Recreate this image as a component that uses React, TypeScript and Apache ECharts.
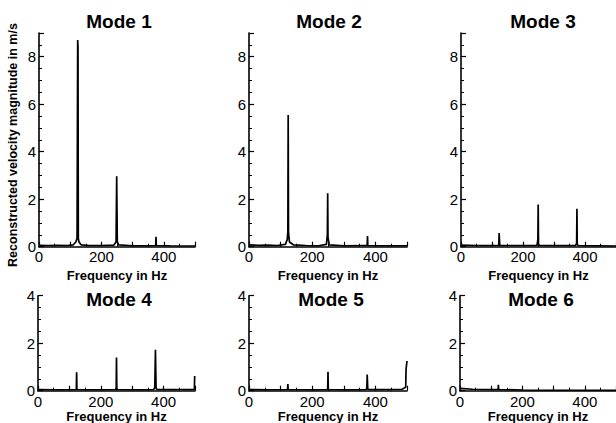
import React, { useEffect, useRef } from "react";
import * as echarts from "echarts";

const modeTitles = ["Mode 1", "Mode 2", "Mode 3", "Mode 4", "Mode 5", "Mode 6"];
const xAxisName = "Frequency in Hz";
const yAxisName = "Reconstructed velocity magnitude in m/s";
const xLabelValues = [0, 200, 400];
const yMaxTop = 9;
const yMaxBottom = 4;

// [frequency in Hz, magnitude in m/s]
const mode1: number[][] = [
  [0, 0.06], [30, 0.05], [60, 0.06], [90, 0.05], [110, 0.08], [118, 0.2], [122, 0.35],
  [124, 8.7], [125, 8.4], [126, 0.35], [128, 0.2], [135, 0.08], [160, 0.05], [200, 0.05],
  [240, 0.07], [247, 0.2], [249, 2.97], [251, 0.2], [255, 0.08], [300, 0.04], [350, 0.04],
  [374, 0.05], [375, 0.42], [376, 0.05], [420, 0.04], [500, 0.03],
];
const mode2: number[][] = [
  [0, 0.08], [30, 0.06], [60, 0.07], [90, 0.05], [115, 0.1], [121, 0.3], [123, 0.65],
  [124, 5.55], [125, 0.6], [128, 0.2], [140, 0.08], [180, 0.05], [220, 0.04], [245, 0.1],
  [248, 0.5], [249, 2.25], [250, 0.4], [254, 0.08], [300, 0.04], [360, 0.05], [374, 0.05],
  [375, 0.45], [376, 0.05], [420, 0.04], [500, 0.04],
];
const mode3: number[][] = [
  [0, 0.07], [50, 0.05], [100, 0.05], [122, 0.05], [123, 0.58], [125, 0.05], [200, 0.05],
  [245, 0.05], [248, 0.3], [249, 1.78], [250, 0.1], [253, 0.05], [300, 0.05], [370, 0.05],
  [373, 0.15], [374, 1.6], [375, 0.1], [378, 0.05], [440, 0.04], [500, 0.03],
];
const mode4: number[][] = [
  [0, 0.05], [60, 0.04], [122, 0.05], [123, 0.78], [124, 0.05], [200, 0.04], [247, 0.05],
  [249, 0.1], [250, 1.4], [251, 0.1], [253, 0.05], [320, 0.04], [369, 0.05], [372, 0.15],
  [374, 1.72], [376, 0.1], [379, 0.05], [440, 0.05], [498, 0.05], [499, 0.62], [500, 0.62],
];
const mode5: number[][] = [
  [0, 0.05], [60, 0.04], [122, 0.05], [123, 0.28], [124, 0.05], [200, 0.04], [249, 0.05],
  [250, 0.8], [251, 0.05], [320, 0.04], [370, 0.05], [373, 0.1], [374, 0.68], [376, 0.05],
  [440, 0.05], [485, 0.06], [492, 0.12], [496, 0.15], [497, 0.9], [499, 0.9], [500, 1.25],
];
const mode6: number[][] = [
  [0, 0.1], [40, 0.06], [100, 0.05], [122, 0.05], [123, 0.25], [124, 0.05], [200, 0.03],
  [300, 0.02], [400, 0.02], [500, 0.02],
];

const modeData = [mode1, mode2, mode3, mode4, mode5, mode6];

const FONT = "'Liberation Sans', Arial, Helvetica, sans-serif";

export default function App() {
  const ref = useRef<HTMLDivElement>(null);

  useEffect(() => {
    if (!ref.current) return;
    const chart = echarts.init(ref.current, undefined, { renderer: "svg" });

    const grids = [
      { left: 39, top: 33, width: 156, height: 213.7 },
      { left: 249, top: 33, width: 158, height: 213.7 },
      { left: 461, top: 33, width: 155, height: 213.7 },
      { left: 38, top: 295.7, width: 157, height: 95 },
      { left: 249, top: 295.7, width: 158, height: 95 },
      { left: 460, top: 295.7, width: 156, height: 95 },
    ];

    const axisLine = { show: true, onZero: false, lineStyle: { color: "#000", width: 1.6 } };
    const axisTick = { show: true, inside: true, length: 5, lineStyle: { color: "#000", width: 1.2 } };
    const minorTickStyle = { color: "#000", width: 1 };

    const xAxes = grids.map((_, i) => ({
      type: "value",
      gridIndex: i,
      min: 0,
      max: 500,
      interval: 100,
      axisLine,
      axisTick,
      minorTick: { show: true, splitNumber: 2, length: 3, lineStyle: minorTickStyle },
      splitLine: { show: false },
      axisLabel: {
        show: true,
        margin: i < 3 ? 2 : 3,
        color: "#000",
        fontSize: 15,
        fontFamily: FONT,
        formatter: (v: number) => (xLabelValues.includes(v) ? String(v) : ""),
      },
      name: xAxisName,
      nameLocation: "middle",
      nameGap: i < 3 ? 18 : 16,
      nameTextStyle: { color: "#000", fontSize: 13, fontWeight: "bold", fontFamily: FONT, lineHeight: 14 },
    }));

    const yAxes = grids.map((_, i) => ({
      type: "value",
      gridIndex: i,
      min: 0,
      max: i < 3 ? yMaxTop : yMaxBottom,
      interval: 2,
      axisLine,
      axisTick,
      minorTick: { show: true, splitNumber: 4, length: 3, lineStyle: minorTickStyle },
      splitLine: { show: false },
      axisLabel: {
        show: true,
        margin: 3,
        color: "#000",
        fontSize: 15,
        fontFamily: FONT,
        formatter: (v: number) => (v % 2 === 0 ? String(v) : ""),
      },
    }));

    const titleCenters = [
      [119, 21], [329, 21], [543, 21],
      [119, 299], [331, 299], [541, 299],
    ];

    const graphic: any[] = modeTitles.map((t, i) => ({
      type: "text",
      x: titleCenters[i][0],
      y: titleCenters[i][1],
      style: {
        text: t,
        fill: "#000",
        font: `bold 19px ${FONT}`,
        align: "center",
        verticalAlign: "middle",
      },
    }));
    graphic.push({
      type: "text",
      x: 13,
      y: 145,
      rotation: Math.PI / 2,
      style: {
        text: yAxisName,
        fill: "#000",
        font: `bold 12.5px ${FONT}`,
        align: "center",
        verticalAlign: "middle",
      },
    });

    chart.setOption({
      animation: false,
      backgroundColor: "#fff",
      grid: grids.map((g) => ({ ...g, containLabel: false, outerBoundsMode: "none" })),
      xAxis: xAxes,
      yAxis: yAxes,
      graphic,
      series: modeData.map((d, i) => ({
        type: "line",
        xAxisIndex: i,
        yAxisIndex: i,
        data: d,
        showSymbol: false,
        symbol: "none",
        clip: true,
        lineStyle: { color: "#000", width: 1.7 },
        z: 1,
      })),
    });

    return () => chart.dispose();
  }, []);

  return (
    <div
      ref={ref}
      style={{ position: "absolute", left: 0, top: 0, width: 616, height: 423 }}
    />
  );
}
